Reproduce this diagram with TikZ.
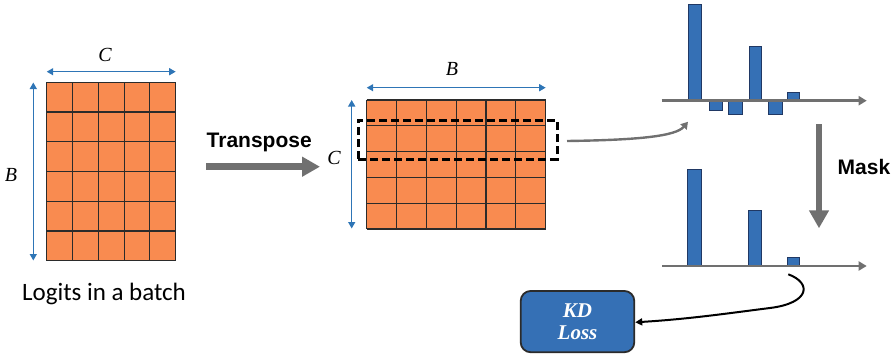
\documentclass[tikz,border=0pt]{standalone}
\usepackage{fontspec}
\setmainfont{Liberation Serif}
\newfontfamily\labelfont{Liberation Sans}
\newfontfamily\capfont{Carlito}
\usetikzlibrary{arrows.meta}
\definecolor{cellorange}{HTML}{F98B50}
\definecolor{gridline}{HTML}{2B2B2B}
\definecolor{dimblue}{HTML}{2E75B6}
\definecolor{barblue}{HTML}{3570B5}
\definecolor{barborder}{HTML}{203864}
\definecolor{flowgray}{HTML}{707070}
\tikzset{
  dimarrow/.style={draw=dimblue, line width=1.4pt, {Triangle[width=7pt,length=6.5pt]}-{Triangle[width=7pt,length=6.5pt]}},
  bigarrow/.style={draw=flowgray, line width=6.5pt, -{Triangle[width=19pt,length=18pt]}},
  axisline/.style={draw=flowgray, line width=2.6pt, -{Triangle[width=9pt,length=8pt]}},
  bar/.style={fill=barblue, draw=barborder, line width=1pt},
  cellgrid/.style={draw=gridline, line width=1.1pt},
  mathlab/.style={font=\itshape\fontsize{20}{20}\selectfont},
  boldlab/.style={font=\labelfont\bfseries\fontsize{21}{21}\selectfont},
}
\begin{document}
\begin{tikzpicture}[x=1pt,y=-1pt]
\useasboundingbox (0,0) rectangle (894,356);

% ---------- left grid (B x C) ----------
\fill[cellorange] (46.7,82.3) rectangle (175.7,260.7);
\foreach \i in {0,...,5} {\draw[cellgrid] ({46.7+\i*25.8},82.3) -- ({46.7+\i*25.8},260.7);}
\foreach \j in {0,...,6} {\draw[cellgrid] (46.7,{82.3+\j*29.73}) -- (175.7,{82.3+\j*29.73});}
\coordinate (lcL) at (46.7,71.7);
\coordinate (lcR) at (175.7,71.7);
\coordinate (lbT) at (33.3,82.5);
\coordinate (lbB) at (33.3,260.5);
\draw[dimarrow] (lcL) -- (lcR);
\draw[dimarrow] (lbT) -- (lbB);
\node[mathlab] (lC) at (105,55) {C};
\node[mathlab] (lB) at (11,175) {B};
\node[font=\capfont\fontsize{25}{25}\selectfont] (logits) at (104,294) {Logits in a batch};

% ---------- transpose ----------
\node[boldlab, anchor=west, inner sep=0pt] (transpose) at (206.5,142) {Transpose};
\coordinate (tA) at (206,166.7);
\coordinate (tB) at (320,166.7);
\draw[bigarrow] (tA) -- (tB);

% ---------- middle grid (C x B) ----------
\fill[cellorange] (366.7,100) rectangle (545.7,229);
\foreach \i in {0,...,6} {\draw[cellgrid] ({366.7+\i*29.83},100) -- ({366.7+\i*29.83},229);}
\foreach \j in {0,...,5} {\draw[cellgrid] (366.7,{100+\j*25.8}) -- (545.7,{100+\j*25.8});}
\coordinate (mbL) at (366.7,87.7);
\coordinate (mbR) at (545.7,87.7);
\coordinate (mcT) at (351.7,100);
\coordinate (mcB) at (351.7,228.5);
\draw[dimarrow] (mbL) -- (mbR);
\draw[dimarrow] (mcT) -- (mcB);
\node[mathlab] (mB) at (452,69) {B};
\node[mathlab] (mC) at (334,158) {C};
\node[draw=black, line width=3pt, dash pattern=on 8pt off 4pt, minimum width=199pt, minimum height=39pt, inner sep=0pt] (sel) at (457.7,139.7) {};

% ---------- top chart ----------
\coordinate (ax1L) at (661.7,100.7);
\coordinate (ax1R) at (866.7,100.7);
\draw[bar] (688.3,4) rectangle (701.7,100.7);
\draw[bar] (709,100.7) rectangle (722.7,110);
\draw[bar] (728.7,100.7) rectangle (742.7,114);
\draw[bar] (749,46) rectangle (761.7,100.7);
\draw[bar] (768.3,100.7) rectangle (782.3,114);
\draw[bar] (787.7,92.7) rectangle (799.3,100.7);
\draw[axisline] (ax1L) -- (ax1R);

% curved arrow from selected row to chart
\coordinate (cs) at (567,141);
\coordinate (ce) at (688,121.7);
\draw[flowgray, line width=2.4pt, -{Triangle[width=8pt,length=7pt]}] (cs) .. controls (640,140) and (676,136) .. (ce);

% ---------- mask ----------
\coordinate (mkA) at (819,124);
\coordinate (mkB) at (819,228.3);
\draw[bigarrow, line width=6pt] (mkA) -- (mkB);
\node[boldlab, anchor=west, inner sep=0pt] (mask) at (837.5,167) {Mask};

% ---------- bottom chart ----------
\coordinate (ax2L) at (662.3,266);
\coordinate (ax2R) at (866.7,266);
\draw[bar] (687.7,169) rectangle (701.7,266);
\draw[bar] (748.3,210.7) rectangle (761.7,266);
\draw[bar] (787.3,257.3) rectangle (799,266);
\draw[axisline] (ax2L) -- (ax2R);

% ---------- KD loss ----------
\node[fill=barblue, draw=gridline, line width=1.8pt, rounded corners=10pt, minimum width=113.6pt, minimum height=61.3pt, align=center, text=white, font=\bfseries\itshape\fontsize{21}{22.6}\selectfont] (kd) at (577.5,321.6) {KD\\Loss};
\coordinate (ks) at (788.3,274.3);
\draw[black, line width=2pt, -{Triangle[width=7pt,length=7pt]}] (ks) .. controls (812,283) and (810,303) .. (770,308) .. controls (730,313) and (690,319) .. (kd.east |- 0,322.3);
\end{tikzpicture}
\end{document}
